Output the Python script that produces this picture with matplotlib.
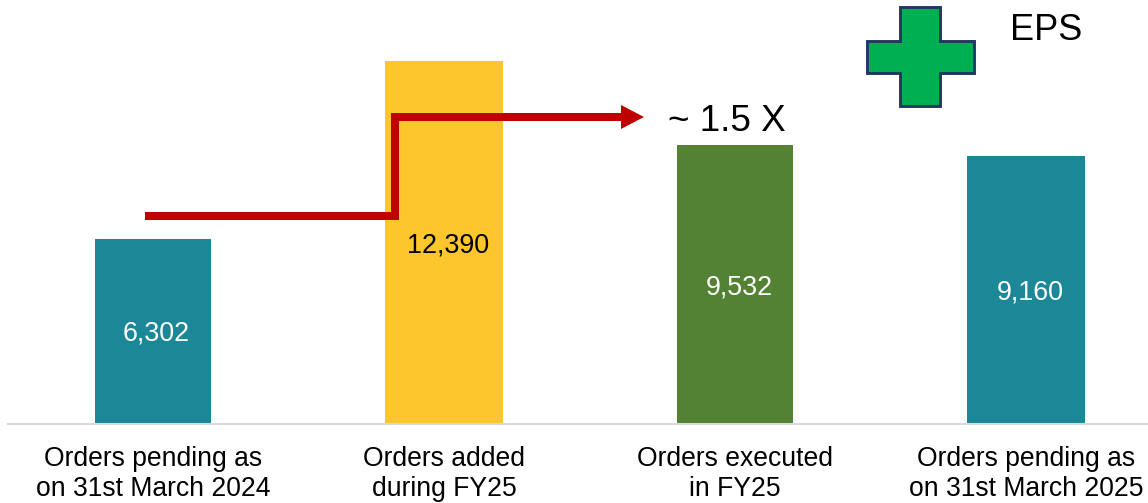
import matplotlib
matplotlib.use("Agg")
import matplotlib.pyplot as plt
from matplotlib.patches import Polygon

categories = ["Orders pending as\non 31st March 2024", "Orders added\nduring FY25",
              "Orders executed\nin FY25", "Orders pending as\non 31st March 2025"]
values = [6302, 12390, 9532, 9160]
labels = ["6,302", "12,390", "9,532", "9,160"]
colors = ["#1C8796", "#FDC62D", "#548235", "#1C8796"]
label_colors = ["white", "black", "white", "white"]
label_y_px = [334, 245.5, 287.5, 292.5]
callout = "~ 1.5 X"
badge = "EPS"

W, H = 1148, 503
plt.rcParams["font.family"] = ["Liberation Sans", "DejaVu Sans"]
fig = plt.figure(figsize=(W / 100, H / 100), dpi=100)

ax = fig.add_axes([8 / W, (H - 424) / H, (W - 8) / W, 424 / H])
ax.bar(range(4), values, width=[0.399, 0.405, 0.399, 0.405], color=colors, linewidth=0, zorder=2)
ax.set_xlim((8 - 153) / 291, (W - 153) / 291)
ax.set_ylim(0, 424 / 0.0293)
ax.set_yticks([])
ax.set_xticks(range(4))
ax.set_xticklabels(categories, fontsize=19.1, linespacing=1.17, color="black")
ax.tick_params(axis="x", length=0, pad=16)
for s in ["top", "left", "right"]:
    ax.spines[s].set_visible(False)
ax.spines["bottom"].set_color("#D9D9D9")
ax.spines["bottom"].set_linewidth(1.5)

# overlay in pixel coordinates for the annotations
ov = fig.add_axes([0, 0, 1, 1], facecolor="none")
ov.set_xlim(0, W)
ov.set_ylim(H, 0)
ov.axis("off")

centers_px = [153, 445, 736, 1027]
for cx, y, t, c in zip(centers_px, label_y_px, labels, label_colors):
    ov.text(cx + 3.5, y, t, ha="center", va="center", fontsize=19.4, color=c)

ov.plot([145, 395, 395, 622], [215.5, 215.5, 117, 117], color="#C00000", lw=5.76,
        solid_joinstyle="miter", solid_capstyle="butt")
ov.add_patch(Polygon([(621, 105), (644, 117), (621, 129)], closed=True, color="#C00000", lw=0))
ov.text(727, 121, callout, ha="center", va="center", fontsize=26.6, color="black")

cross = [(899.5, 6.5), (939.5, 6.5), (939.5, 40.5), (973.5, 40.5), (973.5, 72.5), (939.5, 72.5),
         (939.5, 106), (899.5, 106), (899.5, 72.5), (866.5, 72.5), (866.5, 40.5), (899.5, 40.5)]
ov.add_patch(Polygon(cross, closed=True, facecolor="#00B050", edgecolor="#203864", lw=2.1))
ov.text(1046.5, 30.5, badge, ha="center", va="center", fontsize=26, color="black")

fig.savefig("out.png", dpi=100)
